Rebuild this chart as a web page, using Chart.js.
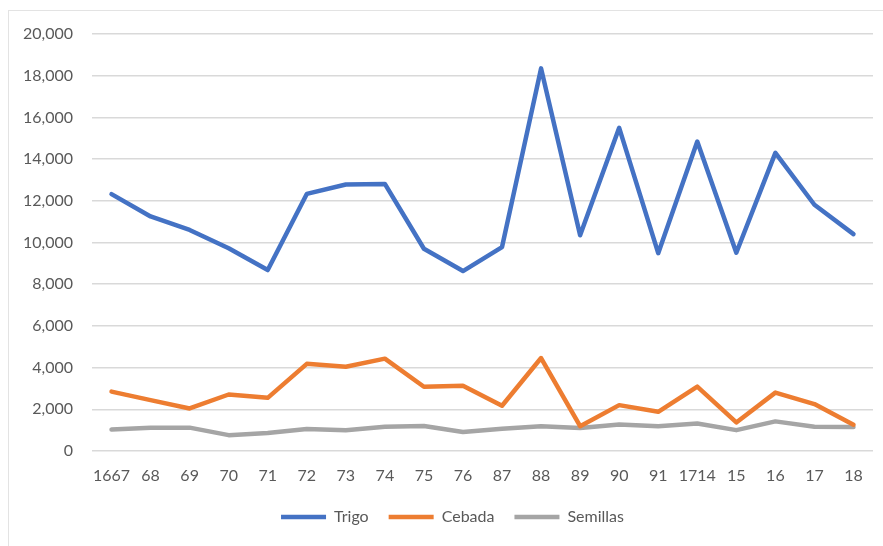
<!DOCTYPE html>
<html>
<head>
<meta charset="utf-8">
<script src="https://cdn.jsdelivr.net/npm/chart.js@4/dist/chart.umd.min.js"></script>
<style>
  html, body { margin: 0; padding: 0; background: #ffffff; }
  #wrap { position: relative; width: 883px; height: 546px; overflow: hidden; }
  #frame { position: absolute; left: 8px; top: 10px; width: 900px; height: 600px;
           border-top: 1.5px solid #e3e3e3; border-left: 1.5px solid #e3e3e3; }
  canvas { position: absolute; left: 0; top: 0; }
</style>
</head>
<body>
<div id="wrap">
  <div id="frame"></div>
  <canvas id="chart" width="883" height="546"></canvas>
</div>
<script>
// Years (abbreviated as in the original series)
const categories = ["1667", "68", "69", "70", "71", "72", "73", "74", "75", "76",
                    "87", "88", "89", "90", "91", "1714", "15", "16", "17", "18"];

const trigo    = [12320, 11250, 10600, 9720, 8680, 12330, 12780, 12810, 9700, 8630,
                  9780, 18350, 10350, 15500, 9490, 14840, 9510, 14300, 11810, 10400];
const cebada   = [2850, 2440, 2040, 2710, 2550, 4180, 4040, 4430, 3080, 3130,
                  2170, 4460, 1190, 2200, 1880, 3090, 1370, 2800, 2250, 1260];
const semillas = [1030, 1120, 1120, 760, 860, 1050, 1000, 1160, 1200, 910,
                  1070, 1190, 1100, 1270, 1190, 1320, 1000, 1420, 1160, 1150];

const seriesNames = ["Trigo", "Cebada", "Semillas"];
const yTicks = { min: 0, max: 20000, step: 2000 };

const textColor = "#595959";
const font = { family: "Lato, 'Open Sans', sans-serif", size: 16 };

function line(label, data, color) {
  return {
    label, data,
    borderColor: color,
    backgroundColor: color,
    borderWidth: 4.5,
    pointRadius: 0,
    tension: 0,
    borderJoinStyle: "round",
    borderCapStyle: "round"
  };
}

// Nudge the legend slightly right of the canvas centre
const legendNudge = {
  id: "legendNudge",
  afterLayout(chart) {
    const lg = chart.legend;
    if (!lg) return;
    lg.left += 12;
    lg.right += 12;
  }
};

new Chart(document.getElementById("chart"), {
  type: "line",
  data: {
    labels: categories,
    datasets: [
      line(seriesNames[0], trigo, "#4472C4"),
      line(seriesNames[1], cebada, "#ED7D31"),
      line(seriesNames[2], semillas, "#A5A5A5")
    ]
  },
  plugins: [legendNudge],
  options: {
    responsive: false,
    animation: false,
    layout: { padding: { left: 8, right: 10, top: 34, bottom: 11 } },
    scales: {
      x: {
        offset: true,
        grid: { display: false, drawTicks: false },
        border: { display: false },
        ticks: { color: textColor, font, padding: 15, maxRotation: 0, autoSkip: false },
        afterFit: s => { s.height = 38; }
      },
      y: {
        min: yTicks.min, max: yTicks.max,
        grid: { color: "#d9d9d9", lineWidth: 1.5, drawTicks: false },
        border: { display: false },
        ticks: {
          stepSize: yTicks.step, color: textColor, font, padding: 19,
          callback: v => v.toLocaleString("en-US")
        },
        afterFit: s => { s.width = 84; }
      }
    },
    plugins: {
      tooltip: { enabled: false },
      legend: {
        position: "bottom",
        labels: {
          color: textColor, font,
          usePointStyle: true, pointStyle: "line", pointStyleWidth: 45,
          padding: 20
        }
      }
    }
  }
});
</script>
</body>
</html>
